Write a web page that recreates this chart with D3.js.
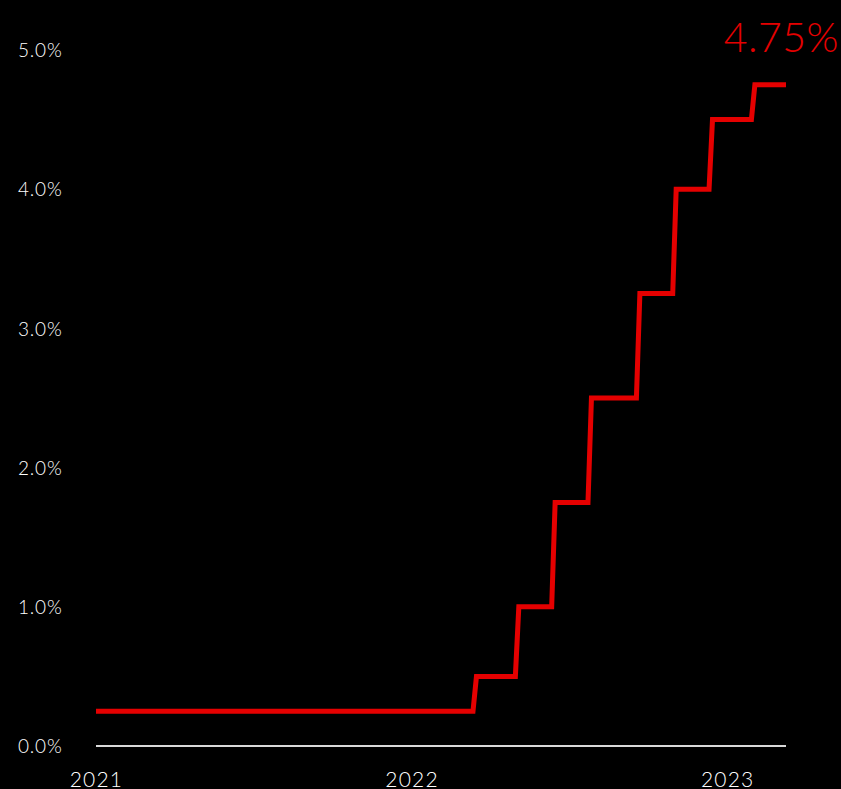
<!DOCTYPE html>
<html>
<head>
<meta charset="utf-8">
<script src="https://cdn.jsdelivr.net/npm/d3@7"></script>
<style>
  html, body { margin: 0; padding: 0; background: #000; }
  svg { display: block; }
  text { font-family: Lato, "Open Sans", sans-serif; font-weight: 300; }
</style>
</head>
<body>
<svg id="chart" width="841" height="789"></svg>
<script>
// Fed funds target (upper bound), %
const changeDates = ["2021-01-01", "2022-03-17", "2022-05-05", "2022-06-16", "2022-07-28", "2022-09-22", "2022-11-03", "2022-12-15", "2023-02-02"];
const rates       = [0.25,          0.50,         1.00,         1.75,         2.50,         3.25,         4.00,         4.50,         4.75];
const endDate = "2023-03-10";
const yTicks = [0, 1, 2, 3, 4, 5];
const xTickYears = ["2021", "2022", "2023"];
const lastLabel = "4.75%";

(function () {
const parse = d3.timeParse("%Y-%m-%d");
const svg = d3.select("#chart");
const mLeft = 96, mRight = 786, mTop = 50, mBottom = 746;

const x = d3.scaleTime().domain([parse(changeDates[0]), parse(endDate)]).range([mLeft, mRight]);
const y = d3.scaleLinear().domain([0, 5]).range([mBottom, mTop]);

// build step points (weekly data: change spans a few days)
const pts = [];
changeDates.forEach((d, i) => {
  const dt = parse(d);
  if (i > 0) {
    pts.push({date: d3.timeDay.offset(dt, -4), v: rates[i - 1]});
  }
  pts.push({date: dt, v: rates[i]});
});
pts.push({date: parse(endDate), v: rates[rates.length - 1]});

// y axis labels
const yAxis = d3.axisLeft(y).tickValues(yTicks).tickFormat(d => d3.format(".1f")(d) + "%").tickSize(0);
const yg = svg.append("g").call(yAxis);
yg.select(".domain").remove();
yg.selectAll("text")
  .attr("x", 18).attr("text-anchor", "start").attr("dy", "0.35em")
  .attr("fill", "#fff").style("font-size", "19px").style("letter-spacing", "0.8px")
  .style("font-family", "Lato, 'Open Sans', sans-serif").style("font-weight", 300);

// x axis labels
const xAxis = d3.axisBottom(x)
  .tickValues(xTickYears.map(yv => parse(yv + "-01-01")))
  .tickFormat(d3.timeFormat("%Y")).tickSize(0);
const xg = svg.append("g").attr("transform", `translate(0,${mBottom})`).call(xAxis);
xg.select(".domain").remove();
xg.selectAll("text")
  .attr("y", 0).attr("dy", "41px")
  .attr("fill", "#fff").style("font-size", "21px").style("letter-spacing", "1.2px")
  .style("font-family", "Lato, 'Open Sans', sans-serif").style("font-weight", 300);

// baseline
svg.append("line")
  .attr("x1", mLeft).attr("x2", mRight)
  .attr("y1", y(0)).attr("y2", y(0))
  .attr("stroke", "#d9d9d9").attr("stroke-width", 2);

// line
const line = d3.line().x(d => x(d.date)).y(d => y(d.v));
svg.append("path")
  .datum(pts)
  .attr("d", line)
  .attr("fill", "none")
  .attr("stroke", "#e50000")
  .attr("stroke-width", 5)
  .attr("stroke-linejoin", "miter");

// last value label
svg.append("text")
  .attr("x", 839).attr("y", 52)
  .attr("text-anchor", "end")
  .attr("fill", "#e50000")
  .style("font-size", "41px")
  .style("font-weight", 300)
  .style("letter-spacing", "0.5px")
  .text(lastLabel);
})();
</script>
</body>
</html>
